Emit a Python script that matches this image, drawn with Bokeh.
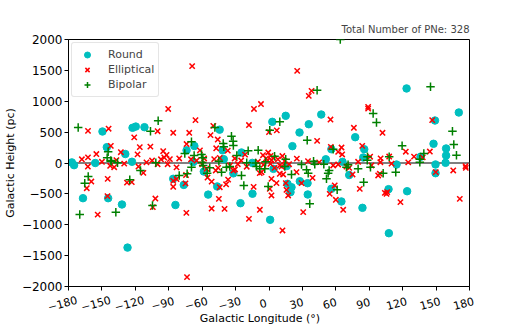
import math
from bokeh.plotting import figure
from bokeh.layouts import column
from bokeh.models import Span, Legend, LegendItem, FixedTicker, Range1d
from bokeh.core.properties import value
from bokeh.embed import file_html
from bokeh.resources import INLINE

# ---------------- data (galactic longitude deg, galactic height pc) ----------------
round_pts = [
    (-177, 10), (-175, -35), (-167, -570), (-156, 0), (-149.5, 510), (-145.6, 256),
    (-144.4, -570), (-132, -672), (-129, 145), (-127, -1370), (-123, 20), (-122.5, 570),
    (-119.6, 590), (-111.8, 580), (-86, -256), (-84, -680), (-76.5, -355), (-74, 205),
    (-67, 275), (-68, 15), (-58.5, -138), (-54.6, -512), (-46.5, -380), (-44.3, 540),
    (-41.7, 205), (-40.6, 62), (-32, -168), (-25.6, -651), (-24.7, 170), (-15, 2),
    (-14.8, -498), (1, -920), (3, 667), (15, 764), (4, -95), (16, -50), (16.6, -337),
    (20.2, -392), (19.3, -472), (21, 273), (27.4, 494), (27.7, -295), (34.6, -327),
    (34.8, -510), (35.7, 628), (46.9, 785), (51, 60), (56, 223), (56, -418), (65, -623),
    (66, 19), (72, -195), (77.4, 418), (84.6, 89), (85.5, 223), (83.9, -726),
    (107.3, -424), (107.6, -1137), (114.5, -25), (123.5, 1207), (124, -457), (136, 100),
    (147.7, 311), (149, 688), (149.5, -24), (149.5, -165), (159, 235), (159, 121),
    (158.5, 3), (170.4, 818),
]

elliptical_pts = [
    (-162.5, 520), (-144, 555), (-142, 278), (-133, 175), (-155, 145), (-162.5, 90),
    (-121, 415), (-118, 140), (-116, 256), (-106.5, 265), (-100, 515), (-95, 191),
    (-94, 89), (-137, 45), (-90.5, 875), (-86, 489), (-69, 1568), (-66, 695),
    (-71.6, 489), (-74, 307), (-62, 205), (-52.5, 452), (-50, 602), (-46, 380),
    (-47.4, 238), (-37, 200), (-18, 615), (-13.5, 875), (-7.2, 955), (0, 500),
    (-89, 62), (-80.6, 73), (-58.2, 73), (-49.2, 62), (-44.2, 84), (-30.8, 73),
    (-21.5, 135), (-5.4, 126), (-2.6, 73), (-92, 130),
    (25.3, 1493), (38.2, 1169), (35.7, 1088), (89, 910), (89, 880), (55.2, 704),
    (43.2, 359), (76.2, 570), (83.7, 278), (55.5, 262), (65.1, 251), (62.1, 181),
    (65.7, 138), (7, 528), (12, 113), (-0.7, 170), (1.4, 116), (3.8, 84), (-1.3, 40),
    (2.3, 45), (101.9, 489), (146.5, 695), (122.8, 183), (130.2, 103), (144.4, 186),
    (138, 90), (100.2, 75), (107.9, 105), (90.8, 102), (176.4, -52),
    (-162.6, -57), (-159.5, -300), (-163.6, -408), (-153.8, -836), (-144.8, -256),
    (-142.6, -45), (-139, -68), (-145, -537), (-127.5, -318), (-123.2, -310),
    (-117.2, -57), (-112.8, -159), (-104.3, -715), (-102, -575), (-91, -20),
    (-83, -70), (-86, -290), (-83, -260), (-86, -385), (-74.5, -195), (-75, -330),
    (-74.2, -807), (-73.6, -1848), (-55.2, -235), (-51.5, -302), (-51.5, -737),
    (-45, -580), (-44.2, -392), (-39.9, -742), (-38.5, -345), (-36.7, -270),
    (-32, -121), (-30.5, -105), (-18, -904), (-13.8, -386), (-8.2, -758),
    (-47.8, -121), (-45.7, -78), (-56.1, -94), (-8.3, -165), (-6.7, -149),
    (11.2, -57), (9.7, -175), (12.7, -186), (2.2, -256), (6.7, -327), (0.7, -418),
    (2.2, -526), (15.1, -327), (15.7, -434), (17.2, -526), (24.7, -148), (29.2, -327),
    (39.1, -240), (30.7, -796), (12.1, -1093), (54.5, -499), (59, -364), (60, -596),
    (66.6, -758), (75, -186), (81.5, -418), (57.6, -40), (62.1, -24), (69.5, -57),
    (72, -78), (1.3, -13), (9.7, -40),
    (92, -40), (98, -202), (99.5, -175), (104, -483), (105.5, -499), (106.1, -472),
    (118, -634), (149.7, -148), (165.4, -121), (176.7, -78), (171.3, -580), (100, 13),
    (-10, 20), (-5, -30), (5, -80), (8, 60), (14, 30), (18, -20), (-25, 40),
    (-28, -20), (-60, -20), (-65, 40), (-70, 60), (-150, 20), (-130, -10),
    (-110, 10), (-105, 40), (-100, -20), (-97, 60), (35, 30), (45, 10), (80, 20),
    (110, -10), (125, 10), (-168, 60), (-35, -40), (-20, -60), (25, 70),
]

bipolar_pts = [
    (-171.3, 575), (-99.5, 683), (-106.4, 515), (-144.4, 181), (-145.3, 84),
    (-141.4, 29), (-101.6, 5), (-48.6, 575), (-33.7, 434), (-32.2, 353), (-32, 283),
    (-41.1, 316), (-40.6, 262), (-69.6, 343), (-75.6, 154), (-60.6, 138), (-59.4, 84),
    (-67.2, 121), (-28.9, 121), (-18.7, 197), (-9.7, 208), (-20, 5), (-12, 0),
    (-136, 5), (43.2, 1180), (9.7, 667), (0.7, 532), (34.3, 370), (57.6, 224),
    (88.4, 100), (64, 2000), (29.2, -24), (41.1, -20), (49.2, -20), (71, -30),
    (145, 1234), (93.5, 801), (96.5, 656), (164.7, 515), (165.9, 300), (168.3, 127),
    (119.5, 278), (139, 154), (107.9, 100), (135.4, 62), (88.2, 46), (91.1, -68),
    (102.5, -165), (113.8, -149), (135.4, 13), (-0.7, -380), (14.2, -57), (20.2, -186),
    (33.7, -110), (35.2, -165), (51.6, -256), (53.1, -165), (54, -121), (61.2, -434),
    (36.6, -661), (80, -94), (85, -310), (69.5, -68), (-80.6, -202), (-73.5, -175),
    (-69.6, -68), (-59.1, -40), (-53.2, -78), (-55.5, -165), (-42.6, -149),
    (-38.2, -68), (-35.2, -57), (-24.7, -202), (-22.6, -364), (-11.2, -57),
    (-8.3, -94), (-3.8, -94), (-162.3, -219), (-165.4, -327), (-169.9, -834),
    (-137.5, -796), (-125, -272), (-115.4, -121), (-104.6, -688), (-142, 40),
    (-60, 10), (-45, 30), (-3, 20), (5, 110), (15, 60), (40, 30),
]

x_ticks = [-180, -150, -120, -90, -60, -30, 0, 30, 60, 90, 120, 150, 180]
y_ticks = [-2000, -1500, -1000, -500, 0, 500, 1000, 1500, 2000]
title_text = "Total Number of PNe: 328"
x_label = "Galactic Longitude (°)"
y_label = "Galactic Height (pc)"
legend_labels = ["Round", "Elliptical", "Bipolar"]


def tick_text(v):
    return ("\u2212" + str(abs(v))) if v < 0 else str(v)


FONT = "DejaVu Sans"
LEFT, RIGHT, FW, FH = 59, 40, 401, 247
TOP, BOTTOM = 39, 8
EXT = 34                     # extra pixels on each side of the label strip
STRIP_H = 32


def no_frame_align(fig):
    if "frame_align" in fig.properties():
        fig.frame_align = False


# ---------------- main plot ----------------
p = figure(frame_width=FW, frame_height=FH, output_backend="svg", toolbar_location=None,
           x_range=Range1d(-180, 180), y_range=Range1d(-2000, 2000),
           min_border_left=LEFT, min_border_right=RIGHT, min_border_top=TOP,
           min_border_bottom=BOTTOM)
no_frame_align(p)
p.background_fill_color = "white"
p.border_fill_color = "white"
p.outline_line_color = "black"
p.outline_line_width = 1
p.xgrid.visible = False
p.ygrid.visible = False

p.title.text = title_text
p.title.align = "right"
p.title.text_font = FONT
p.title.text_font_size = "10px"
p.title.text_font_style = "normal"
p.title.standoff = 10

# x axis of the main plot: tick marks only (labels are drawn in the strip below)
xa = p.xaxis[0]
xa.ticker = FixedTicker(ticks=x_ticks)
xa.major_tick_in = 0
xa.major_tick_out = 4
xa.minor_tick_in = 0
xa.minor_tick_out = 0
xa.axis_line_color = "black"
xa.major_label_text_color = None
xa.major_label_text_font_size = "1px"
xa.major_label_standoff = 0

ax = p.yaxis[0]
ax.ticker = FixedTicker(ticks=y_ticks)
ax.major_label_overrides = {t: tick_text(t) for t in y_ticks}
ax.major_tick_in = 0
ax.major_tick_out = 4
ax.minor_tick_in = 0
ax.minor_tick_out = 0
ax.axis_line_color = "black"
ax.major_label_text_font = FONT
ax.major_label_text_font_size = "12px"
ax.major_label_text_color = "black"
ax.major_label_standoff = 2
ax.axis_label = y_label
ax.axis_label_text_font = FONT
ax.axis_label_text_font_size = "11px"
ax.axis_label_text_font_style = "normal"
ax.axis_label_text_color = "black"
ax.axis_label_standoff = 2

zero = Span(location=0, dimension="width", line_color="#808080", line_width=2,
            level="underlay")
p.add_layout(zero)

r1 = p.scatter([a for a, b in round_pts], [b for a, b in round_pts], marker="circle",
               size=7.5, fill_color="#00BFBF", line_color="#00BFBF")
r2 = p.scatter([a for a, b in elliptical_pts], [b for a, b in elliptical_pts], marker="x",
               size=7.5, line_color="#FF0000", line_width=1.5)
r3 = p.scatter([a for a, b in bipolar_pts], [b for a, b in bipolar_pts], marker="cross",
               size=8.5, line_color="#008000", line_width=1.5)

legend = Legend(items=[LegendItem(label=legend_labels[0], renderers=[r1]),
                       LegendItem(label=legend_labels[1], renderers=[r2]),
                       LegendItem(label=legend_labels[2], renderers=[r3])],
                location="top_left")
legend.label_text_font = FONT
legend.label_text_font_size = "11px"
legend.border_line_color = "#cccccc"
legend.background_fill_alpha = 0.9
legend.margin = 3
legend.padding = 4
legend.spacing = 0
legend.glyph_height = 15
legend.glyph_width = 22
legend.label_height = 15
legend.label_standoff = 10
if "border_radius" in legend.properties():
    legend.border_radius = 3
p.add_layout(legend)

# ---------------- x-axis label strip (rotated tick labels, axis label) ----------------
px_per_unit = FW / 360.0
ext_units = EXT / px_per_unit
q = figure(frame_width=FW + 2 * EXT, frame_height=STRIP_H, output_backend="svg",
           toolbar_location=None,
           x_range=Range1d(-180 - ext_units, 180 + ext_units), y_range=Range1d(0, STRIP_H),
           min_border_left=LEFT - EXT, min_border_right=RIGHT - EXT,
           min_border_top=0, min_border_bottom=0)
no_frame_align(q)
q.axis.visible = False
q.grid.visible = False
q.outline_line_color = None
q.background_fill_color = "white"
q.border_fill_color = "white"

q.text(x=x_ticks, y=[STRIP_H - 9] * len(x_ticks), text=[tick_text(t) for t in x_ticks],
       angle=math.radians(15), text_align="center", text_baseline="middle",
       x_offset=3,
       text_font=value(FONT), text_font_size="11px", text_color="black")
q.text(x=[0], y=[8], text=[x_label], text_align="center", text_baseline="middle",
       text_font=value(FONT), text_font_size="11px", text_color="black")

layout = column(p, q, spacing=0)

open("out.html", "w").write(file_html(layout, INLINE))
